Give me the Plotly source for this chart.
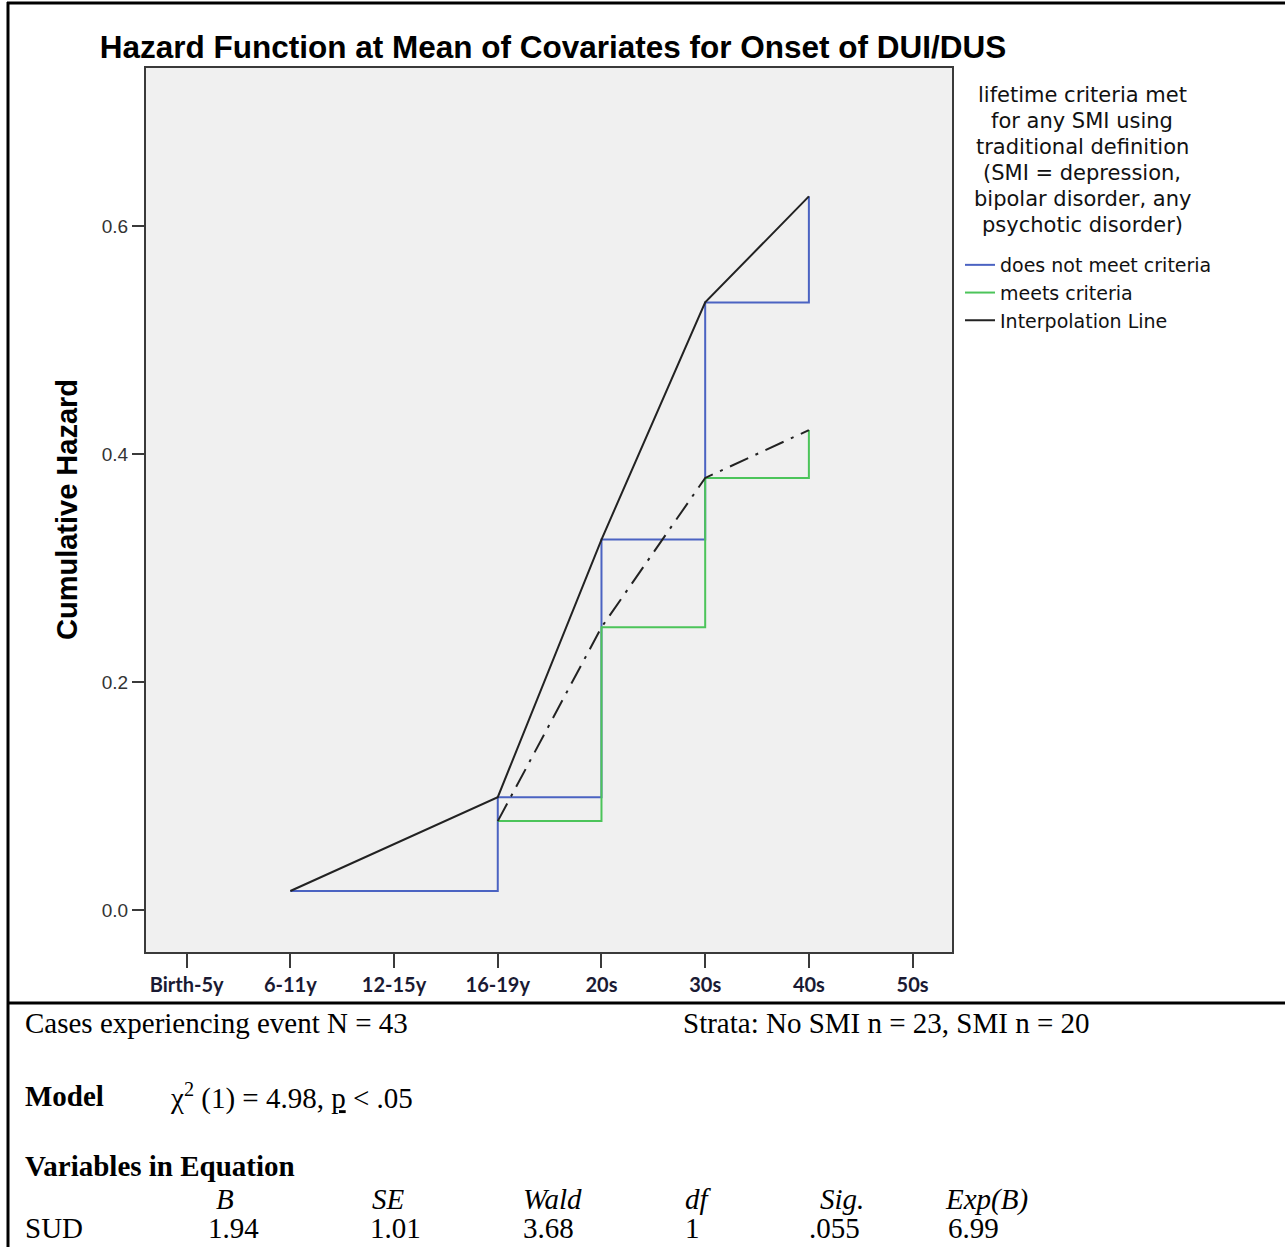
import plotly.graph_objects as go

# Age-group categories on the x axis
age_groups = ["Birth-5y", "6-11y", "12-15y", "16-19y", "20s", "30s", "40s", "50s"]

# Cumulative hazard, no SMI stratum ("does not meet criteria")
no_smi_ages = ["6-11y", "16-19y", "20s", "30s", "40s"]
no_smi_hazard = [0.0167, 0.099, 0.325, 0.533, 0.626]

# Cumulative hazard, SMI stratum ("meets criteria")
smi_ages = ["16-19y", "20s", "30s", "40s"]
smi_hazard = [0.078, 0.248, 0.379, 0.421]

y_ticks = [0.0, 0.2, 0.4, 0.6]

legend_title_lines = [
    "lifetime criteria met",
    "for any SMI using",
    "traditional definition",
    "(SMI = depression,",
    "bipolar disorder, any",
    "psychotic disorder)",
]

# Model summary shown under the chart
cases_text = "Cases experiencing event N = 43"
strata_text = "Strata: No SMI n = 23, SMI n = 20"
model_label = "Model"
model_text = "χ<sup>2</sup> (1) = 4.98, <u>p</u> &lt; .05"
table_heading = "Variables in Equation"
table_columns = ["B", "SE", "Wald", "df", "Sig.", "Exp(B)"]
table_row_label = "SUD"
table_row_values = ["1.94", "1.01", "3.68", "1", ".055", "6.99"]

W, H = 1285, 1247


def fx(px):
    return px / W


def fy(px):
    return 1 - px / H


BLUE = "#4b63c2"
GREEN = "#4cc45a"
SERIF = "Liberation Serif, Times New Roman, serif"
SANS = "Liberation Sans, Arial, sans-serif"
LEGEND_FONT = "DejaVu Sans, sans-serif"

fig = go.Figure()

fig.add_trace(go.Scatter(
    x=no_smi_ages, y=no_smi_hazard, mode="lines", line_shape="hv",
    line=dict(color=BLUE, width=2), name="does not meet criteria",
))
fig.add_trace(go.Scatter(
    x=smi_ages, y=smi_hazard, mode="lines", line_shape="hv",
    line=dict(color=GREEN, width=2), name="meets criteria",
))
fig.add_trace(go.Scatter(
    x=no_smi_ages, y=no_smi_hazard, mode="lines",
    line=dict(color="#222222", width=2), name="Interpolation Line",
))
fig.add_trace(go.Scatter(
    x=smi_ages, y=smi_hazard, mode="lines",
    line=dict(color="#222222", width=2, dash="20px,8px,3px,8px"),
    showlegend=False,
))

annotations = []

# Legend heading, centred block of lines
for i, line in enumerate(legend_title_lines):
    annotations.append(dict(
        text=line, x=fx(1082), y=fy(95 + 26 * i), xref="paper", yref="paper",
        xanchor="center", yanchor="middle", showarrow=False,
        font=dict(family=LEGEND_FONT, size=21, color="#111111"),
    ))

# Y axis title
annotations.append(dict(
    text="<b>Cumulative Hazard</b>", x=fx(67), y=fy(510), xref="paper", yref="paper",
    xanchor="center", yanchor="middle", textangle=-90, showarrow=False,
    font=dict(family=SANS, size=29, color="#000000"),
))


# Text block below the chart
def note(text, x, y, size=29):
    annotations.append(dict(
        text=text, x=fx(x - 2), y=fy(y), xref="paper", yref="paper",
        xanchor="left", yanchor="middle", showarrow=False,
        font=dict(family=SERIF, size=size, color="#000000"),
    ))


note(cases_text, 25, 1023)
note(strata_text, 683, 1023)
note("<b>" + model_label + "</b>", 25, 1096)
note(model_text, 170, 1096)
note("<b>" + table_heading + "</b>", 25, 1166)

col_left = [216, 372, 523, 685, 820, 945]
val_left = [208, 370, 523, 685, 809, 948]
for name, x in zip(table_columns, col_left):
    note("<i>" + name + "</i>", x, 1199)
note(table_row_label, 25, 1228)
for val, x in zip(table_row_values, val_left):
    note(val, x, 1228)

# Page frame and separator rule
shapes = [
    dict(type="line", xref="paper", yref="paper", x0=fx(7), x1=1, y0=fy(3), y1=fy(3),
         line=dict(color="black", width=3)),
    dict(type="line", xref="paper", yref="paper", x0=fx(8), x1=fx(8), y0=0, y1=fy(2),
         line=dict(color="black", width=3)),
    dict(type="line", xref="paper", yref="paper", x0=fx(7), x1=1, y0=fy(1003), y1=fy(1003),
         line=dict(color="black", width=3)),
]

fig.update_layout(
    width=W, height=H,
    margin=dict(l=0, r=0, t=0, b=0),
    paper_bgcolor="white",
    plot_bgcolor="#f0f0f0",
    title=dict(
        text="<b>Hazard Function at Mean of Covariates for Onset of DUI/DUS</b>",
        x=fx(553), y=fy(47), xanchor="center", yanchor="middle",
        xref="paper", yref="paper",
        font=dict(family=SANS, size=31.5, color="#000000"),
    ),
    xaxis=dict(
        domain=[fx(146), fx(952)],
        type="category", categoryorder="array", categoryarray=age_groups,
        range=[-0.392, 7.38],
        showline=True, mirror=True, linecolor="#3a3a3a", linewidth=2,
        ticks="outside", ticklen=14, tickwidth=2, tickcolor="#3a3a3a",
        tickfont=dict(family="Lato, sans-serif", size=20, color="#1a1a33", weight="bold"),
        showgrid=False, zeroline=False,
    ),
    yaxis=dict(
        domain=[fy(952), fy(68)],
        range=[-0.0368, 0.7386],
        tickvals=y_ticks, tickformat=".1f",
        showline=True, mirror=True, linecolor="#3a3a3a", linewidth=2,
        ticks="outside", ticklen=12, tickwidth=2, tickcolor="#3a3a3a",
        tickfont=dict(family=SANS, size=19, color="#333333"),
        showgrid=False, zeroline=False,
    ),
    legend=dict(
        x=fx(960), y=fy(246), xanchor="left", yanchor="top",
        xref="paper", yref="paper",
        bgcolor="rgba(0,0,0,0)", borderwidth=0,
        font=dict(family=LEGEND_FONT, size=19, color="#111111"),
        tracegroupgap=0,
    ),
    annotations=annotations,
    shapes=shapes,
    showlegend=True,
)

fig.write_html("out.html")
